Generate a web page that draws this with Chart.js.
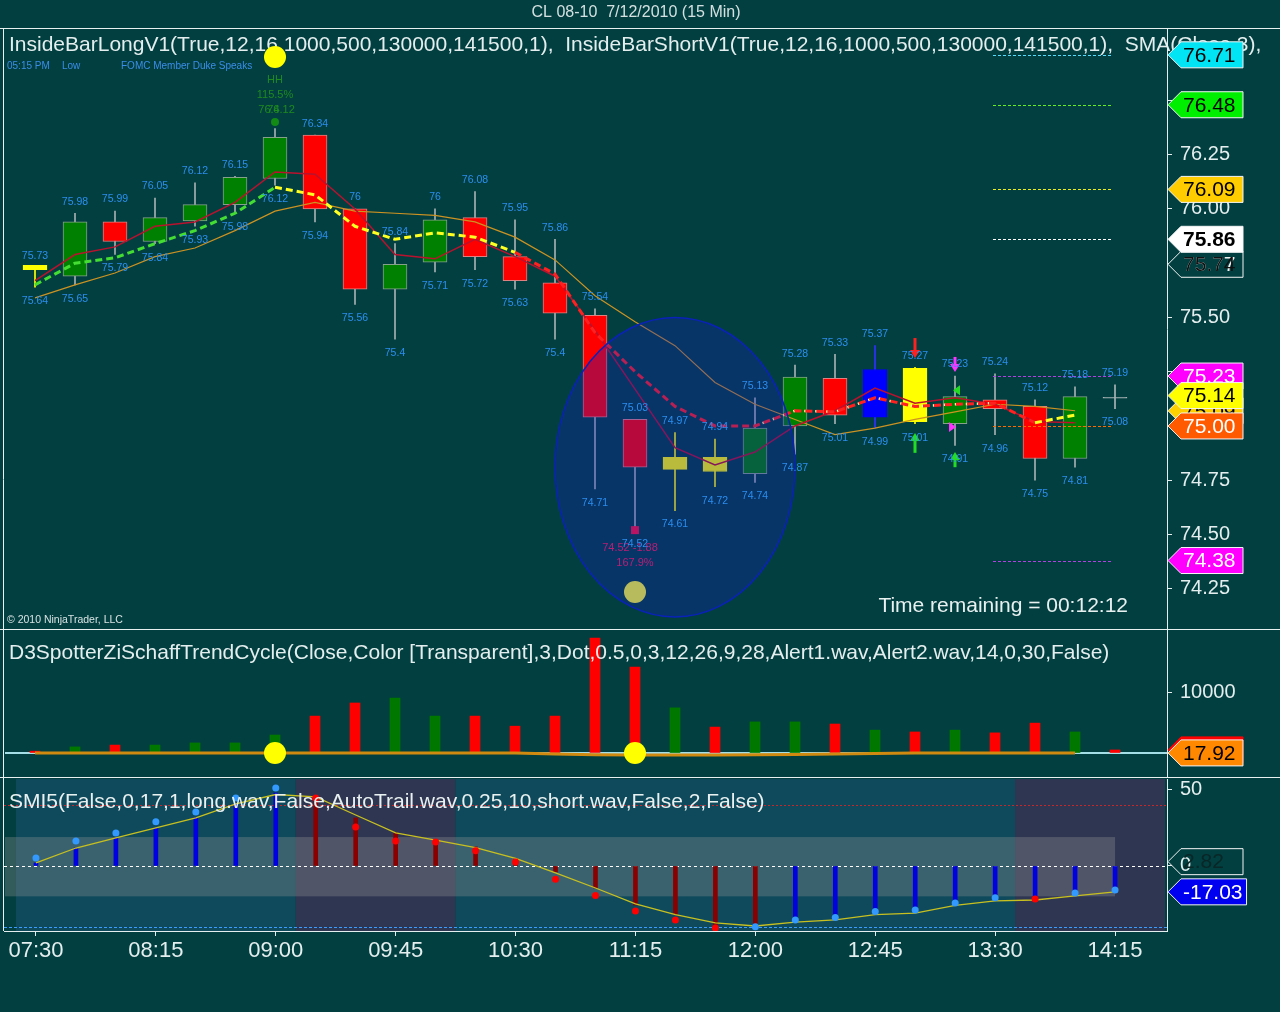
<!DOCTYPE html>
<html><head><meta charset="utf-8">
<script src="https://cdn.jsdelivr.net/npm/chart.js@4/dist/chart.umd.min.js"></script>
<style>
html,body{margin:0;padding:0;background:#023f40;}
#wrap{position:relative;width:1280px;height:1012px;overflow:hidden;background:#023f40;}
canvas{position:absolute;left:0;top:0;width:1280px;height:1012px;}
</style></head><body>
<div id="wrap">
<canvas id="c1" width="1280" height="1012"></canvas>
<canvas id="c2" width="1280" height="1012"></canvas>
<canvas id="c3" width="1280" height="1012"></canvas>
</div>
<script>
// ---------------- DATA ----------------
const timeLabels = ['07:30','07:45','08:00','08:15','08:30','08:45','09:00','09:15','09:30','09:45','10:00','10:15','10:30','10:45','11:00','11:15','11:30','11:45','12:00','12:15','12:30','12:45','13:00','13:15','13:30','13:45','14:00','14:15'];
const axisTimeIdx = [0,3,6,9,12,15,18,21,24,27];

const opens  = [75.72,75.69,75.94,75.85,75.945,76.02,76.14,76.34,76.00,75.63,75.755,75.96,75.78,75.66,75.51,75.03,74.80,74.79,74.78,75.00,75.22,75.04,75.02,75.01,75.12,75.09,74.85,75.128];
const closes = [75.74,75.94,75.85,75.96,76.02,76.145,76.33,76.00,75.63,75.745,75.95,75.78,75.67,75.52,75.04,74.81,74.855,74.855,74.99,75.225,75.05,75.26,75.265,75.135,75.08,74.85,75.135,75.132];
const highs  = [75.73,75.98,75.99,76.05,76.12,76.15,76.37,76.34,76.00,75.84,76.00,76.08,75.95,75.86,75.54,75.03,74.97,74.94,75.13,75.28,75.33,75.37,75.27,75.23,75.24,75.12,75.18,75.19];
const lows   = [75.64,75.65,75.79,75.84,75.92,75.98,76.11,75.94,75.56,75.40,75.71,75.72,75.63,75.40,74.71,74.52,74.61,74.72,74.74,74.87,75.01,74.99,75.01,74.91,74.96,74.75,74.81,75.08];
const candleKind = ['y','g','r','g','g','g','g','r','r','g','g','r','r','r','r','r','y','y','g','g','r','b','y','g','r','r','g','x'];
const highLabels = ['75.73','75.98','75.99','76.05','76.12','76.15','','76.34','76','75.84','76','76.08','75.95','75.86','75.54','75.03','74.97','74.94','75.13','75.28','75.33','75.37','75.27','75.23','75.24','75.12','75.18','75.19'];
const lowLabels  = ['75.64','75.65','75.79','75.84','75.93','75.98','76.12','75.94','75.56','75.4','75.71','75.72','75.63','75.4','74.71','74.52','74.61','74.72','74.74','74.87','75.01','74.99','75.01','74.91','74.96','74.75','74.81','75.08'];

const smaRed    = [75.67,75.79,75.825,75.92,75.94,76.03,76.17,76.16,76.00,75.79,75.77,75.86,75.78,75.69,75.44,75.17,74.90,74.82,74.88,75.00,75.07,75.175,75.105,75.13,75.10,75.02,75.015];
const smaOrange = [75.59,75.65,75.705,75.78,75.82,75.90,75.99,76.03,75.99,75.98,75.97,75.94,75.87,75.765,75.60,75.48,75.37,75.20,75.10,75.03,74.96,74.99,75.03,75.065,75.10,75.09,75.07];
const sma3      = [75.65,75.75,75.775,75.84,75.90,75.98,76.10,76.065,75.92,75.86,75.89,75.87,75.80,75.70,75.43,75.25,75.09,75.00,75.00,75.07,75.065,75.13,75.09,75.10,75.105,75.015,75.05];
const sma3Trend = ['up','up','up','up','up','up','flat','flat','flat','flat','flat','flat','down','down','down','down','down','down','dot','dot','dot','dot','dot','dot','down','flat'];

const priceTicks = [74.25,74.50,74.75,75.00,75.25,75.50,75.75,76.00,76.25,76.50];
const priceLevels = [76.71,76.48,76.09,75.86,75.23,75.00,74.38];

const schaffBars = [300,1000,1300,1300,1650,1650,2950,6050,8200,9000,6050,6050,4400,6050,18850,14100,7400,4250,5100,5100,4750,3750,3450,3750,3300,4900,3450,500];
const schaffDir  = ['r','g','r','g','g','g','g','r','r','g','g','r','r','r','r','r','g','r','g','g','r','g','r','g','r','r','g','r'];
const schaffLine = [20,20,20,20,20,20,20,20,20,20,20,20,20,-150,-300,-330,-330,-330,-300,-250,-150,-100,20,20,20,20,17.92];
const schaffTicks = [0,10000];

const smiHist   = [2,11.8,18.4,25,32,40.8,48,45.4,31.6,21.7,17,12.5,5,-4,-14.5,-25.7,-32,-40,-39,-34,-33.5,-29,-27.6,-23.7,-19.7,-21,-17,-14.5];
const smiDots   = [5.3,16.4,21.7,29,35.5,44.7,51.3,44.7,25.6,16.4,15.8,10,2.6,-8.8,-19.5,-29.6,-35.5,-40.8,-40,-35.5,-34,-30,-29,-24.3,-21,-21.7,-17.8,-15.8];
const smiSignal = [2,11.8,18.4,25,31.6,40.8,47,45.4,33.5,21.7,17,12,5,-4.6,-14.5,-25,-32,-37.5,-39.5,-37,-35.5,-32,-31,-26,-23,-22.4,-19.7,-17];
const smiHistDir = ['u','u','u','u','u','u','u','d','d','d','d','d','d','d','d','d','d','d','d','u','u','u','u','u','u','u','u','u'];
const smiDotDir  = ['u','u','u','u','u','u','u','d','d','d','d','d','d','d','d','d','d','d','u','u','u','u','u','u','u','d','u','u'];
const smiTicks = [0,50];
const smiZones = [[-0.5,6.5,'long'],[6.5,10.5,'short'],[10.5,24.5,'long'],[24.5,28.25,'short']];

// ---------------- STYLE ----------------
const FONT = '"Liberation Sans", Arial, sans-serif';
const BG = '#023f40';
const AXC = '#e4eeee';
const X_MIN = -0.8, X_MAX = 28.3;
Chart.defaults.font.family = FONT;
const bodyCol = {g:'#008000', r:'#ff0000', y:'#ffff00', b:'#0000ff', x:'#a8b4b4'};
const bodyBorder = {g:'#86a08c', r:'#e08080', y:'#ffff00', b:'#0000ff', x:'#a8b4b4'};
const wickCol = {g:'#a4b0b0', r:'#a4b0b0', y:'#ffff00', b:'#3030ff', x:'#a8b4b4'};
const trendCol = {up:'#44dd33', flat:'#ffff22', down:'#ff2020', dot:'#ff2020'};
const idx = timeLabels.map((_, i) => i);

function txt(ctx, s, x, y, font, color, align) {
  ctx.font = font + ' ' + FONT; ctx.fillStyle = color;
  ctx.textAlign = align || 'left'; ctx.textBaseline = 'middle';
  ctx.fillText(s, x, y);
}
function tag(ctx, y, s, bg, fg, opt) {
  opt = opt || {};
  ctx.save();
  ctx.font = (opt.bold ? 'bold ' : '') + '21px ' + FONT;
  const w = ctx.measureText(s).width;
  const x0 = 1168, x1 = 1181, x2 = Math.max(1243, 1183 + w + 4), h = 13;
  ctx.beginPath();
  ctx.moveTo(x0, y); ctx.lineTo(x1, y - h); ctx.lineTo(x2, y - h); ctx.lineTo(x2, y + h); ctx.lineTo(x1, y + h); ctx.closePath();
  if (bg) { ctx.fillStyle = bg; ctx.fill(); }
  ctx.strokeStyle = opt.border || '#f4f4f4'; ctx.lineWidth = 1; ctx.stroke();
  ctx.fillStyle = fg; ctx.textAlign = 'left'; ctx.textBaseline = 'middle';
  ctx.fillText(s, 1183, y + 1);
  if (opt.over) { ctx.fillStyle = opt.overColor; ctx.fillText(opt.over, 1183, y + 1); }
  ctx.restore();
}
function yAxis(min, max, ticks, fmt) {
  return {
    position: 'right', min: min, max: max,
    afterFit: s => { s.width = 113; },
    afterBuildTicks: s => { s.ticks = ticks.map(v => ({value: v})); },
    ticks: {color: AXC, font: {family: FONT, size: 20}, padding: 8, callback: fmt},
    grid: {drawOnChartArea: false, drawTicks: true, tickLength: 5, color: AXC},
    border: {display: true, color: AXC, width: 1}
  };
}
function xAxisHidden() {
  return {type: 'linear', min: X_MIN, max: X_MAX, offset: false, display: false, grid: {offset: false}};
}
function baseOptions(top, bottom, scales) {
  return {
    responsive: false, animation: false, events: [],
    layout: {padding: {top: top, bottom: bottom, left: 3, right: 0}},
    plugins: {legend: {display: false}, tooltip: {enabled: false}},
    scales: scales
  };
}

// ---------------- CHART 1: PRICE ----------------
const p1 = {
  id: 'p1',
  afterDatasetsDraw(chart) {
    const ctx = chart.ctx, xs = chart.scales.x, ys = chart.scales.y, ca = chart.chartArea;
    const X = i => xs.getPixelForValue(i), Y = v => ys.getPixelForValue(v);
    ctx.save();
    txt(ctx, 'CL 08-10  7/12/2010 (15 Min)', 636, 13, '16px', '#d4e0e0', 'center');
    txt(ctx, 'InsideBarLongV1(True,12,16,1000,500,130000,141500,1),  InsideBarShortV1(True,12,16,1000,500,130000,141500,1),  SMA(Close,3),', 9, 45, '21px', '#e4eeee');
    txt(ctx, '05:15 PM', 7, 66, '10px', '#3a8ee8');
    txt(ctx, 'Low', 62, 66, '10px', '#3a8ee8');
    txt(ctx, 'FOMC Member Duke Speaks', 121, 66, '10px', '#3a8ee8');
    // level lines
    const lvCol = ['#55ddff','#66ee22','#eeee22','#ffffff','#b040e0','#ff6a00','#b040e0'];
    ctx.lineWidth = 1; ctx.setLineDash([3, 2]);
    priceLevels.forEach((v, k) => {
      ctx.strokeStyle = lvCol[k]; ctx.beginPath();
      const y = Math.round(Y(v)) + 0.5;
      ctx.moveTo(X(23.95), y); ctx.lineTo(X(26.9), y); ctx.stroke();
    });
    ctx.setLineDash([]);
    // green annotations at bar 6
    const bx = X(6), yd = Y(76.40);
    ctx.fillStyle = '#138a13'; ctx.beginPath(); ctx.arc(bx, yd, 4, 0, Math.PI * 2); ctx.fill();
    txt(ctx, 'HH', bx, yd - 42, '11px', '#1f8a1f', 'center');
    txt(ctx, '115.5%', bx, yd - 27, '11px', '#1f8a1f', 'center');
    txt(ctx, '76.12', bx + 6, yd - 12, '11px', '#1f8a1f', 'center');
    txt(ctx, '76.4', bx - 6, yd - 12, '11px', '#1f8a1f', 'center');
    ctx.fillStyle = '#ffff00'; ctx.beginPath(); ctx.arc(bx, Y(76.70), 11, 0, Math.PI * 2); ctx.fill();
    // bar 15 annotations (under ellipse)
    const cx15 = X(15);
    ctx.fillStyle = '#ff1038'; ctx.fillRect(cx15 - 4, Y(74.52) - 4, 8, 8);
    txt(ctx, '74.52 -1.88', cx15 - 5, Y(74.52) + 18, '11px', '#ff2050', 'center');
    txt(ctx, '167.9%', cx15, Y(74.52) + 33, '11px', '#ff2050', 'center');
    ctx.fillStyle = '#ffff30'; ctx.beginPath(); ctx.arc(cx15, Y(74.235), 11, 0, Math.PI * 2); ctx.fill();
    // arrows
    const arrows = [[22, 75.405, 75.313, '#ff2020'], [22, 74.876, 74.968, '#22dd22'], [23, 75.318, 75.249, '#ff33ff'], [23, 74.81, 74.88, '#22dd22']];
    arrows.forEach(a => {
      const x = X(a[0]), y0 = Y(a[1]), y1 = Y(a[2]), d = Math.sign(y1 - y0);
      ctx.strokeStyle = a[3]; ctx.lineWidth = 3; ctx.beginPath(); ctx.moveTo(x, y0); ctx.lineTo(x, y1 - d * 6); ctx.stroke();
      ctx.fillStyle = a[3]; ctx.beginPath(); ctx.moveTo(x - 5, y1 - d * 8); ctx.lineTo(x + 5, y1 - d * 8); ctx.lineTo(x, y1); ctx.closePath(); ctx.fill();
    });
    ctx.fillStyle = '#22dd22'; ctx.beginPath(); const tx = X(23) + 2, ty = Y(75.165);
    ctx.moveTo(tx - 4, ty); ctx.lineTo(tx + 3, ty - 5); ctx.lineTo(tx + 3, ty + 5); ctx.closePath(); ctx.fill();
    ctx.fillStyle = '#ff33ff'; ctx.beginPath(); const tx2 = X(23) - 3, ty2 = Y(74.995);
    ctx.moveTo(tx2 + 4, ty2); ctx.lineTo(tx2 - 3, ty2 - 5); ctx.lineTo(tx2 - 3, ty2 + 5); ctx.closePath(); ctx.fill();
    // ellipse
    const ecx = X(16), ecy = (Y(75.50) + Y(74.12)) / 2, erx = X(19) - X(16), ery = (Y(74.12) - Y(75.50)) / 2;
    ctx.beginPath(); ctx.ellipse(ecx, ecy, erx, ery, 0, 0, Math.PI * 2);
    ctx.fillStyle = 'rgba(20,30,200,0.30)'; ctx.fill();
    ctx.strokeStyle = '#0a22b8'; ctx.lineWidth = 1.5; ctx.stroke();
    // hi/lo labels
    idx.forEach(i => {
      if (highLabels[i]) txt(ctx, highLabels[i], X(i), Y(highs[i]) - 11.5, '10.5px', '#2b8ff0', 'center');
      if (lowLabels[i]) txt(ctx, lowLabels[i], X(i), Y(lows[i]) + 14, '10.5px', '#2b8ff0', 'center');
    });
    txt(ctx, 'Time remaining = 00:12:12', ca.right - 39, ca.bottom - 23, '21px', '#e8f0f0', 'right');
    txt(ctx, '\u00a9 2010 NinjaTrader, LLC', 7, ca.bottom - 9, '10.5px', '#d8e2e2');
    // tags
    tag(ctx, Y(76.71), '76.71', '#00e4f4', '#000');
    tag(ctx, Y(76.48), '76.48', '#00ee00', '#000');
    tag(ctx, Y(76.09), '76.09', '#ffcc00', '#000');
    tag(ctx, Y(75.745), '75.77', BG, '#f0f0f0', {over: '75.74', overColor: '#101010'});
    tag(ctx, Y(75.86), '75.86', '#ffffff', '#000', {bold: true});
    tag(ctx, Y(75.23), '75.23', '#ff00ff', '#fff');
    tag(ctx, Y(75.07), '75.09', '#ffd000', '#000');
    tag(ctx, Y(75.14), '75.14', '#ffff00', '#000');
    tag(ctx, Y(75.00), '75.00', '#ff5a00', '#fff');
    tag(ctx, Y(74.38), '74.38', '#ff00ff', '#fff');
    ctx.restore();
  }
};

new Chart(document.getElementById('c1'), {
  type: 'bar',
  data: {datasets: [
    {type: 'line', order: 0, data: sma3.map((v, i) => ({x: i, y: v})), borderWidth: 3, borderDash: [7, 4], pointRadius: 0,
      borderColor: '#ffff22', segment: {borderColor: c => trendCol[sma3Trend[c.p0DataIndex]]}},
    {type: 'line', order: 0, data: sma3.map((v, i) => ({x: i, y: v})), borderWidth: 2.5, borderDash: [2, 9], borderDashOffset: -8, pointRadius: 0,
      borderColor: 'rgba(0,0,0,0)', segment: {borderColor: c => sma3Trend[c.p0DataIndex] === 'dot' ? '#ffffb0' : 'rgba(0,0,0,0)'}},
    {type: 'line', order: 1, data: smaRed.map((v, i) => ({x: i, y: v})), borderColor: '#b8122e', borderWidth: 1.5, pointRadius: 0},
    {type: 'line', order: 1, data: smaOrange.map((v, i) => ({x: i, y: v})), borderColor: '#cc9222', borderWidth: 1.2, pointRadius: 0},
    {type: 'bar', order: 2, grouped: false, data: idx.map(i => ({x: i, y: [opens[i], closes[i]]})),
      backgroundColor: idx.map(i => bodyCol[candleKind[i]]), borderColor: idx.map(i => bodyBorder[candleKind[i]]),
      borderWidth: 1, borderSkipped: false, barThickness: idx.map(i => candleKind[i] === 'y' && i === 0 ? 25 : 24)},
    {type: 'bar', order: 3, grouped: false, data: idx.map(i => ({x: i, y: [lows[i], highs[i]]})),
      backgroundColor: idx.map(i => wickCol[candleKind[i]]), borderWidth: 0, barThickness: 1}
  ]},
  options: baseOptions(29, 1012 - 629, {
    x: xAxisHidden(),
    y: yAxis(74.0645, 76.829, priceTicks, v => v.toFixed(2))
  }),
  plugins: [p1]
});

// ---------------- CHART 2: SCHAFF ----------------
const p2 = {
  id: 'p2',
  beforeDatasetsDraw(chart) {
    const ctx = chart.ctx, ys = chart.scales.y, ca = chart.chartArea;
    const y0 = ys.getPixelForValue(0);
    ctx.save(); ctx.strokeStyle = '#a4dfe8'; ctx.lineWidth = 2;
    ctx.beginPath(); ctx.moveTo(ca.left + 2, y0); ctx.lineTo(ca.right, y0); ctx.stroke(); ctx.restore();
  },
  afterDatasetsDraw(chart) {
    const ctx = chart.ctx, xs = chart.scales.x, ys = chart.scales.y, ca = chart.chartArea;
    ctx.save();
    txt(ctx, 'D3SpotterZiSchaffTrendCycle(Close,Color [Transparent],3,Dot,0.5,0,3,12,26,9,28,Alert1.wav,Alert2.wav,14,0,30,False)', 9, ca.top + 23, '21px', '#e4eeee');
    [6, 15].forEach(i => { ctx.fillStyle = '#ffff00'; ctx.beginPath(); ctx.arc(xs.getPixelForValue(i), ys.getPixelForValue(0), 11, 0, Math.PI * 2); ctx.fill(); });
    tag(ctx, ys.getPixelForValue(17.92) - 3, '', '#ff0000', '#000', {border: '#ff0000'});
    tag(ctx, ys.getPixelForValue(17.92), '17.92', '#ff8800', '#000');
    ctx.restore();
  }
};
new Chart(document.getElementById('c2'), {
  type: 'bar',
  data: {datasets: [
    {type: 'line', order: 0, data: schaffLine.map((v, i) => ({x: i, y: v})), borderColor: '#d08a10', borderWidth: 3, pointRadius: 0},
    {type: 'bar', order: 1, grouped: false, data: schaffBars.map((v, i) => ({x: i, y: v})),
      backgroundColor: schaffDir.map(d => d === 'g' ? '#007800' : '#ff0000'), barThickness: 10}
  ]},
  options: baseOptions(630, 1012 - 777, {
    x: xAxisHidden(),
    y: yAxis(-3934, 20164, schaffTicks, v => String(v))
  }),
  plugins: [p2]
});

// ---------------- CHART 3: SMI ----------------
const p3 = {
  id: 'p3',
  beforeDatasetsDraw(chart) {
    const ctx = chart.ctx, xs = chart.scales.x, ys = chart.scales.y, ca = chart.chartArea;
    const X = i => xs.getPixelForValue(i), Y = v => ys.getPixelForValue(v);
    ctx.save();
    smiZones.forEach(z => {
      ctx.fillStyle = z[2] === 'long' ? '#0e4a5c' : '#2f3652';
      ctx.fillRect(X(z[0]), ca.top, X(z[1]) - X(z[0]), ca.bottom - ca.top);
    });
    ctx.fillStyle = 'rgba(150,150,150,0.33)';
    ctx.fillRect(ca.left + 1, Y(19), X(27) - ca.left - 1, Y(-20) - Y(19));
    const dl = (v, col, dash) => { ctx.strokeStyle = col; ctx.setLineDash(dash); ctx.lineWidth = 1; ctx.beginPath(); const y = Math.round(Y(v)) + 0.5; ctx.moveTo(ca.left, y); ctx.lineTo(ca.right, y); ctx.stroke(); };
    dl(40, '#c4262a', [2, 2]);
    dl(-40, '#3a9cff', [3, 2]);
    dl(0, '#ffffff', [3, 3]);
    ctx.restore();
  },
  afterDatasetsDraw(chart) {
    const ctx = chart.ctx, ys = chart.scales.y, ca = chart.chartArea;
    ctx.save();
    txt(ctx, 'SMI5(False,0,17,1,long.wav,False,AutoTrail.wav,0.25,10,short.wav,False,2,False)', 9, ca.top + 23, '21px', '#e8f0f0');
    tag(ctx, ys.getPixelForValue(2.82), '2.82', null, '#0a2626');
    tag(ctx, ys.getPixelForValue(-17.03), '-17.03', '#0000f0', '#ffffff');
    ctx.restore();
  },
  afterDraw(chart) {
    const ctx = chart.ctx;
    ctx.save(); ctx.strokeStyle = '#e8f0f0'; ctx.lineWidth = 1;
    [28.5, 629.5, 777.5].forEach(y => { ctx.beginPath(); ctx.moveTo(0, y); ctx.lineTo(1280, y); ctx.stroke(); });
    ctx.beginPath(); ctx.moveTo(3.5, 28); ctx.lineTo(3.5, 931); ctx.stroke();
    ctx.restore();
  }
};
new Chart(document.getElementById('c3'), {
  type: 'bar',
  data: {datasets: [
    {type: 'line', order: 0, data: smiDots.map((v, i) => ({x: i, y: v})), showLine: false, pointRadius: 3.5, borderWidth: 0,
      pointBackgroundColor: smiDotDir.map(d => d === 'u' ? '#3399ff' : '#ff0000')},
    {type: 'line', order: 1, data: smiSignal.map((v, i) => ({x: i, y: v})), borderColor: '#c8c020', borderWidth: 1.3, pointRadius: 0},
    {type: 'bar', order: 2, grouped: false, data: smiHist.map((v, i) => ({x: i, y: v})),
      backgroundColor: smiHistDir.map(d => d === 'u' ? '#0000e0' : '#8a0000'), barThickness: 4}
  ]},
  options: baseOptions(779, 41, {
    x: {type: 'linear', min: X_MIN, max: X_MAX, offset: false, position: 'bottom',
      afterFit: s => { s.height = 40; },
      afterBuildTicks: s => { s.ticks = axisTimeIdx.map(v => ({value: v})); },
      ticks: {color: AXC, font: {family: FONT, size: 22}, padding: 2, maxRotation: 0, autoSkip: false, callback: v => timeLabels[v]},
      grid: {drawOnChartArea: false, drawTicks: true, tickLength: 5, color: AXC, offset: false},
      border: {display: true, color: AXC}},
    y: yAxis(-42.8, 57.2, smiTicks, v => String(v))
  }),
  plugins: [p3]
});
</script>
</body></html>
